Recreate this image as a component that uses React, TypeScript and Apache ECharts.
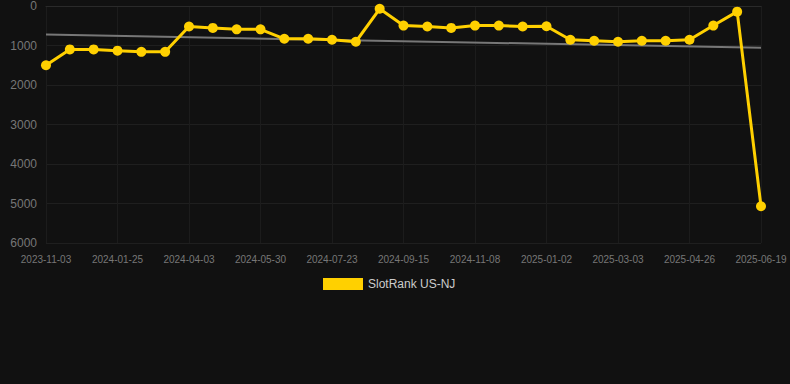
import React, { useEffect, useRef } from "react";
import * as echarts from "echarts";

const dates = [
  "2023-11-03", "2023-11-30", "2023-12-28", "2024-01-25", "2024-02-17", "2024-03-11",
  "2024-04-03", "2024-04-22", "2024-05-11", "2024-05-30", "2024-06-17", "2024-07-05",
  "2024-07-23", "2024-08-10", "2024-08-28", "2024-09-15", "2024-10-03", "2024-10-21",
  "2024-11-08", "2024-11-26", "2024-12-14", "2025-01-02", "2025-01-22", "2025-02-11",
  "2025-03-03", "2025-03-21", "2025-04-08", "2025-04-26", "2025-05-14", "2025-06-01",
  "2025-06-19",
];

const rankValues = [
  1500, 1100, 1100, 1130, 1160, 1160,
  520, 555, 590, 590, 830, 830,
  855, 905, 70, 495, 520, 555,
  495, 495, 520, 512, 855, 880,
  905, 880, 880, 855, 495, 143,
  5070,
];

const trendStart = 722;
const trendEnd = 1058;

const yTicks = { min: 0, max: 6000, interval: 1000 };

export default function App() {
  const ref = useRef<HTMLDivElement>(null);
  useEffect(() => {
    document.body.style.margin = "0";
    document.body.style.background = "#111111";
    if (!ref.current) return;
    const chart = echarts.init(ref.current, undefined, { renderer: "svg" });
    const trend = dates.map((_, i) =>
      i === 0 ? trendStart : i === dates.length - 1 ? trendEnd : null
    );
    chart.setOption({
      animation: false,
      backgroundColor: "#111111",
      grid: { left: 46, right: 29, top: 6, bottom: 141 },
      legend: {
        top: 273,
        left: 318,
        icon: "rect",
        itemWidth: 40,
        itemHeight: 12,
        data: ["SlotRank US-NJ"],
        textStyle: { color: "#cccccc", fontSize: 12, fontFamily: "Arial, Liberation Sans, sans-serif" },
      },
      xAxis: {
        type: "category",
        data: dates,
        boundaryGap: false,
        axisLine: { show: true, lineStyle: { color: "#2a2a2a" } },
        axisTick: { show: false },
        axisLabel: {
          interval: 2,
          color: "#777777",
          fontSize: 10,
          margin: 11,
          fontFamily: "Arial, Liberation Sans, sans-serif",
        },
        splitLine: { show: true, interval: 2, lineStyle: { color: "#1c1c1c" } },
      },
      yAxis: {
        type: "value",
        inverse: true,
        min: yTicks.min,
        max: yTicks.max,
        interval: yTicks.interval,
        axisLine: { show: false },
        axisTick: { show: false },
        axisLabel: {
          color: "#777777",
          fontSize: 12,
          margin: 9,
          formatter: (v: number) => String(v),
          fontFamily: "Arial, Liberation Sans, sans-serif",
        },
        splitLine: { lineStyle: { color: "#1f1f1f" } },
      },
      series: [
        {
          name: "SlotRank US-NJ",
          type: "line",
          data: rankValues,
          symbol: "circle",
          symbolSize: 10,
          itemStyle: { color: "#ffd000" },
          lineStyle: { color: "#ffd000", width: 3 },
          z: 3,
        },
        {
          name: "trend",
          type: "line",
          data: trend,
          connectNulls: true,
          symbol: "none",
          lineStyle: { color: "#777777", width: 2 },
          z: 2,
        },
      ],
    });
    return () => chart.dispose();
  }, []);
  return <div ref={ref} style={{ width: 790, height: 384 }} />;
}
